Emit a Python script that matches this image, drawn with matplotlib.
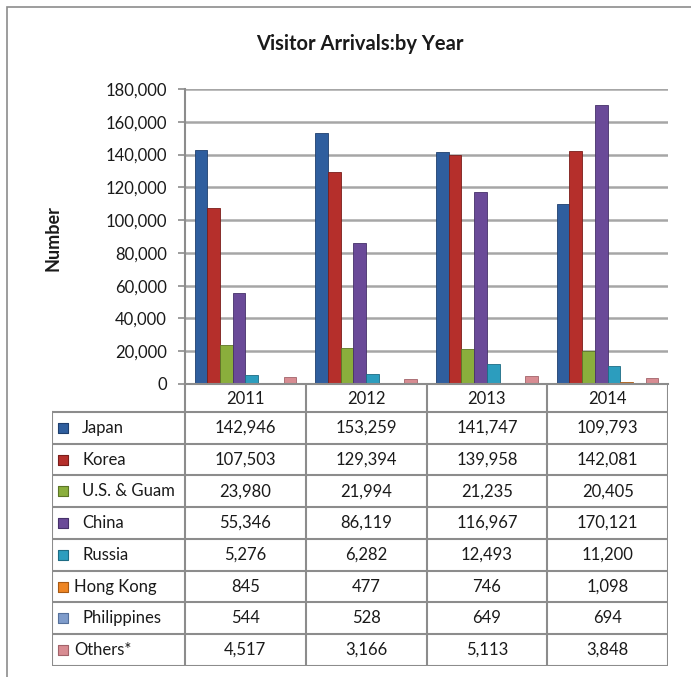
import matplotlib
matplotlib.use('Agg')
import matplotlib.pyplot as plt
from matplotlib.patches import Rectangle
from matplotlib.ticker import FuncFormatter
import numpy as np

# ── data ──
years = ['2011', '2012', '2013', '2014']
countries = ['Japan', 'Korea', 'U.S. & Guam', 'China', 'Russia',
             'Hong Kong', 'Philippines', 'Others*']
japan       = [142946, 153259, 141747, 109793]
korea       = [107503, 129394, 139958, 142081]
us_guam     = [23980, 21994, 21235, 20405]
china       = [55346, 86119, 116967, 170121]
russia      = [5276, 6282, 12493, 11200]
hong_kong   = [845, 477, 746, 1098]
philippines = [544, 528, 649, 694]
others      = [4517, 3166, 5113, 3848]
series = [japan, korea, us_guam, china, russia, hong_kong, philippines, others]

colors = ['#2F5E9E', '#B52F2B', '#8AAE3C', '#6A4A98',
          '#2C9DBE', '#EE8523', '#7F9CCB', '#D88C92']
edges  = ['#1F3F6E', '#7A1D1A', '#5C7526', '#46316A',
          '#1D6C84', '#A85A14', '#56719C', '#A2636A']
tight_labels = {'Hong Kong', 'Others*'}

FONT = ['Lato', 'DejaVu Sans']
plt.rcParams['font.family'] = FONT
C_GRID = '#A6A6A6'
C_LINE = '#8C8C8C'
C_TEXT = '#1A1A1A'

W, H = 691, 677
fig = plt.figure(figsize=(W / 100, H / 100), dpi=100)
fig.patch.set_facecolor('white')

def fx(px): return px / W
def fy(py): return 1 - py / H

# outer frame (cropped at right / bottom like the source)
fig.add_artist(Rectangle((fx(7), -0.1), 1.2, fy(7) + 0.1, transform=fig.transFigure,
                         fill=False, edgecolor=C_LINE, lw=1.2))

fig.text(fx(360), fy(44), 'Visitor Arrivals:by Year', ha='center', va='center',
         fontsize=14.5, fontweight='bold', color=C_TEXT)
fig.text(fx(53), fy(238), 'Number', ha='center', va='center', rotation=90,
         fontsize=13, fontweight='bold', color=C_TEXT)

# ── chart ──
ax = fig.add_axes([fx(185), fy(384), fx(668) - fx(185), fy(89) - fy(384)])
n = len(series)
bw = 1.0 / (n + 1.5)
x = np.arange(len(years))
for i, vals in enumerate(series):
    off = (i - (n - 1) / 2) * bw
    ax.bar(x + off, vals, bw, color=colors[i], edgecolor=edges[i], lw=0.6, zorder=3)

ax.set_xlim(-0.5, len(years) - 0.5)
ax.set_ylim(0, 180000)
ax.set_yticks(np.arange(0, 180001, 20000))
ax.yaxis.set_major_formatter(FuncFormatter(lambda v, p: f'{int(v):,}'))
ax.set_xticks([])
ax.grid(axis='y', color=C_GRID, lw=1.8, zorder=0)
ax.tick_params(axis='y', labelsize=12, colors=C_LINE, labelcolor=C_TEXT,
               length=5, width=1.2, pad=8)
for s in ['top', 'right']:
    ax.spines[s].set_visible(False)
for s in ['left', 'bottom']:
    ax.spines[s].set_color(C_LINE)
    ax.spines[s].set_linewidth(1.5)
ax.spines['bottom'].set_zorder(4)

# ── data table ──
tx = fig.add_axes([fx(52), fy(666), fx(668) - fx(52), fy(384) - fy(666)])
tx.axis('off')
lab_w = 133 / 120.75
hdr = 28 / 31.8
x0 = -0.5 - lab_w
tx.set_xlim(x0, len(years) - 0.5)
tx.set_ylim(hdr + n, 0)

kw = dict(color=C_LINE, lw=1.5, solid_capstyle='projecting')
for j in range(len(years) + 1):
    tx.plot([j - 0.5, j - 0.5], [0, hdr + n], **kw)
tx.plot([x0, x0], [hdr, hdr + n], **kw)
for r in range(n + 1):
    tx.plot([x0, len(years) - 0.5], [hdr + r, hdr + r], **kw)

for j, yr in enumerate(years):
    tx.text(j, hdr / 2 + 0.02, yr, ha='center', va='center', fontsize=12, color=C_TEXT)

px_unit = 120.75
for i, name in enumerate(countries):
    yc = hdr + i + 0.5
    tx.scatter([x0 + 11 / px_unit], [yc], marker='s', s=50, color=colors[i],
               edgecolors=edges[i], linewidths=0.8, zorder=3)
    tx_off = 22 if name in tight_labels else 30
    tx.text(x0 + tx_off / px_unit, yc, name, ha='left', va='center',
            fontsize=12, color=C_TEXT)
    for j, v in enumerate(series[i]):
        tx.text(j, yc, f'{v:,}', ha='center', va='center', fontsize=12, color=C_TEXT)

fig.savefig('out.png', dpi=100, facecolor='white')
